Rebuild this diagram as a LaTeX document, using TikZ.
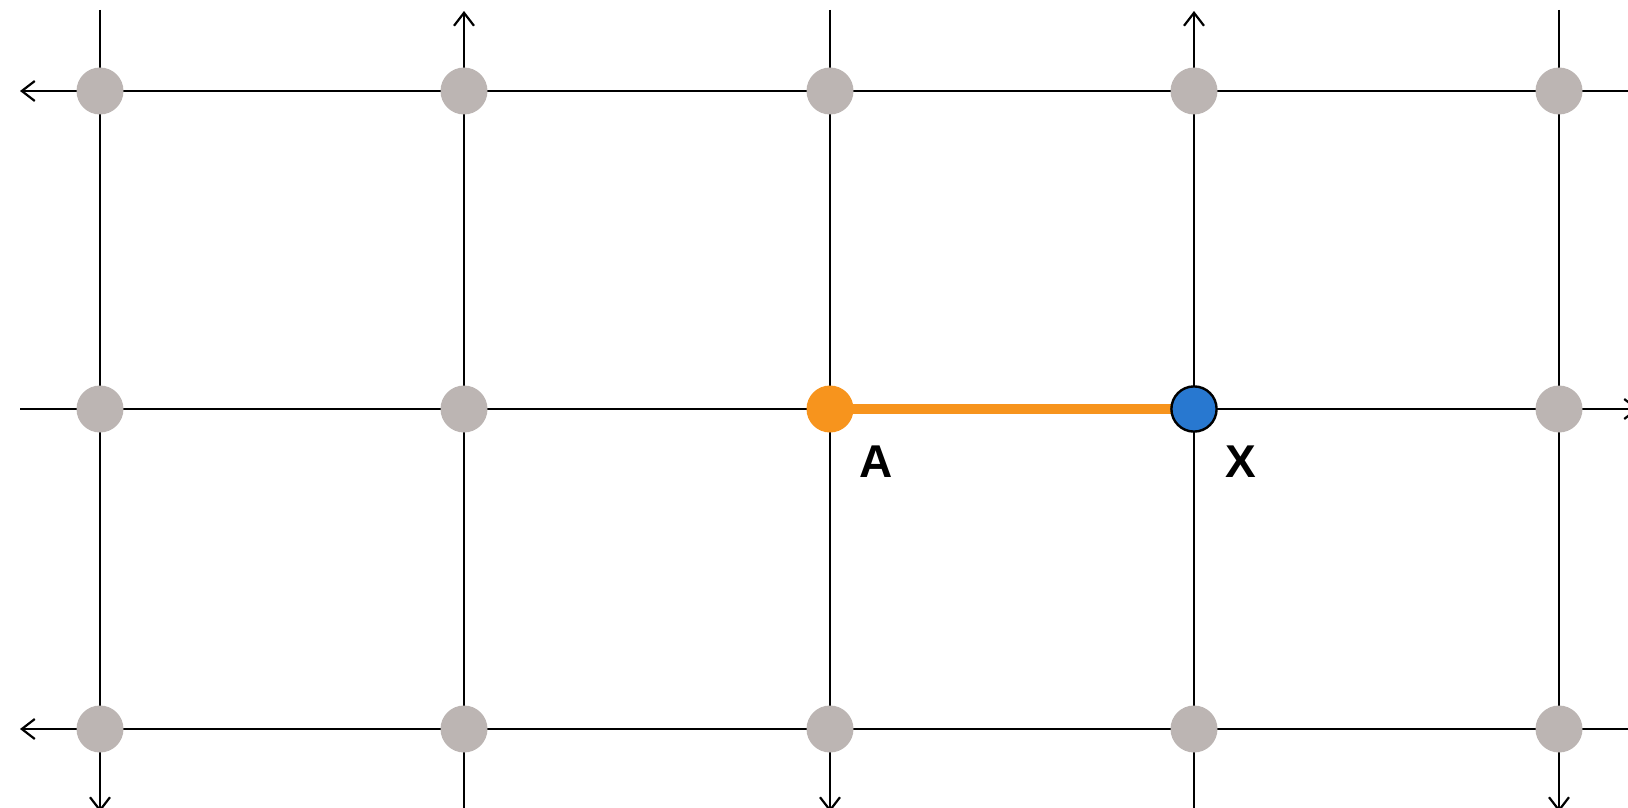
\documentclass[tikz,border=0pt]{standalone}
\usepackage{fontspec}
\setmainfont{Liberation Sans}
\usetikzlibrary{arrows.meta}
\definecolor{dotgray}{HTML}{BCB5B3}
\definecolor{aorange}{HTML}{F7941D}
\definecolor{xblue}{HTML}{2878D0}
\begin{document}
\begin{tikzpicture}[x=0.5pt,y=-0.5pt,
  gridline/.style={line width=1.1pt,black},
  tip/.style={-{Straight Barb[length=6.5pt,width=10pt,line width=1.1pt]}},
  dot/.style={circle,fill=dotgray,inner sep=0pt,minimum size=23.5pt},
  adot/.style={circle,fill=aorange,inner sep=0pt,minimum size=23.5pt},
  xdot/.style={circle,fill=xblue,draw=black,line width=1.2pt,inner sep=0pt,minimum size=22.6pt},
  lbl/.style={font=\bfseries\fontsize{23}{26}\selectfont,inner sep=0pt}]
\useasboundingbox (0,0) rectangle (1628,808);
\clip (0,0) rectangle (1628,808);
% grid points
\foreach \c/\x in {1/100,2/464,3/830,4/1194,5/1559}{
  \foreach \r/\y in {1/91,2/409,3/729}{
    \coordinate (p\r\c) at (\x,\y);
  }
}
% line ends
\coordinate (t1) at (100,10);   \coordinate (b1) at (100,812);
\coordinate (t2) at (464,11);   \coordinate (b2) at (464,830);
\coordinate (t3) at (830,10);   \coordinate (b3) at (830,812);
\coordinate (t4) at (1194,11);  \coordinate (b4) at (1194,830);
\coordinate (t5) at (1559,10);  \coordinate (b5) at (1559,812);
\coordinate (l1) at (20,91);    \coordinate (r1) at (1650,91);
\coordinate (l2) at (20,409);   \coordinate (r2) at (1639,409);
\coordinate (l3) at (20,729);   \coordinate (r3) at (1650,729);
% vertical lines
\draw[gridline,tip] (t1) -- (b1);
\draw[gridline,tip] (b2) -- (t2);
\draw[gridline,tip] (t3) -- (b3);
\draw[gridline,tip] (b4) -- (t4);
\draw[gridline,tip] (t5) -- (b5);
% horizontal lines
\draw[gridline,tip] (r1) -- (l1);
\draw[gridline,tip] (l2) -- (r2);
\draw[gridline,tip] (r3) -- (l3);
% dots
\foreach \r in {1,2,3}{
  \foreach \c in {1,2,3,4,5}{
    \ifnum\r=2 \ifnum\c=3 \else\ifnum\c=4 \else
      \node[dot] (n\r\c) at (p\r\c) {};
    \fi\fi
    \else
      \node[dot] (n\r\c) at (p\r\c) {};
    \fi
  }
}
% highlighted path
\draw[aorange,line width=5pt] (p23) -- (p24);
\node[adot] (A) at (p23) {};
\node[xdot] (X) at (p24) {};
\node[lbl] (la) at (876,462) {A};
\node[lbl] (lx) at (1241,462) {X};
\end{tikzpicture}
\end{document}
